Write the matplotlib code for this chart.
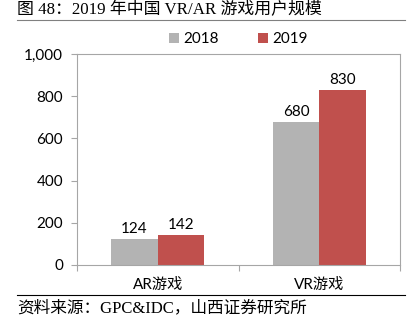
import numpy as np
import matplotlib
matplotlib.use("Agg")
import matplotlib.pyplot as plt
from matplotlib.lines import Line2D

# Dados do gráfico
categories = ["AR游戏", "VR游戏"]
series_names = ["2018", "2019"]
values_2018 = [124, 680]
values_2019 = [142, 830]
y_ticks = [0, 200, 400, 600, 800, 1000]
y_tick_labels = ["0", "200", "400", "600", "800", "1,000"]

title = "图 48：2019 年中国 VR/AR 游戏用户规模"
source = "资料来源：GPC&IDC，山西证券研究所"

colors = ["#B3B3B3", "#C0504D"]
frame_color = "#A6A6A6"
sans = ["Lato", "Noto Sans CJK SC"]
serif = ["Liberation Serif", "Noto Sans CJK SC"]

fig = plt.figure(figsize=(4.2, 3.29), dpi=100)
W, H = 420, 329
# área do gráfico em pixels: x 77..400, y 54..265
ax = fig.add_axes([77 / W, 1 - 265 / H, (400 - 77) / W, (265 - 54) / H])

x = np.arange(len(categories))
bw = 0.288
b1 = ax.bar(x - bw / 2, values_2018, bw, color=colors[0], label=series_names[0])
b2 = ax.bar(x + bw / 2, values_2019, bw, color=colors[1], label=series_names[1])

for bars in (b1, b2):
    for rect in bars:
        h = rect.get_height()
        ax.annotate(f"{h:.0f}", (rect.get_x() + rect.get_width() / 2, h),
                    xytext=(0, 2), textcoords="offset points",
                    ha="center", va="bottom", fontsize=11, family=sans)

ax.set_xlim(-0.5, len(categories) - 0.5)
ax.set_ylim(0, 1000)
ax.set_yticks(y_ticks)
ax.set_yticklabels(y_tick_labels, family=sans, fontsize=11)
# rótulos das categorias no centro, ticks nas fronteiras
ax.set_xticks(x)
ax.set_xticklabels(categories, family=sans, fontsize=11)
ax.tick_params(axis="x", length=0, pad=9)
ax.set_xticks(np.arange(len(categories) + 1) - 0.5, minor=True)
ax.tick_params(axis="x", which="minor", length=4, color=frame_color, width=0.8)
ax.tick_params(axis="y", length=4, color=frame_color, width=0.8, pad=6)

for sp in ax.spines.values():
    sp.set_color(frame_color)
    sp.set_linewidth(0.8)

ax.legend(loc="lower center", bbox_to_anchor=(0.5, 1.0), ncol=2, frameon=False,
          prop={"family": sans, "size": 11}, handlelength=0.6, handleheight=0.6,
          handletextpad=0.3, columnspacing=2.6, borderaxespad=0.1)

# título e fonte
fig.text(17 / W, 1 - 10 / H, title, family=serif, fontsize=12.2,
         ha="left", va="center")
fig.text(17 / W, 1 - 308 / H, source, family=serif, fontsize=12,
         ha="left", va="center")
fig.add_artist(Line2D([17 / W, 405 / W], [1 - 20 / H, 1 - 20 / H],
                      color="#808080", linewidth=0.8))
fig.add_artist(Line2D([17 / W, 405 / W], [1 - 295 / H, 1 - 295 / H],
                      color="black", linewidth=0.8))

fig.savefig("out.png", dpi=100)
